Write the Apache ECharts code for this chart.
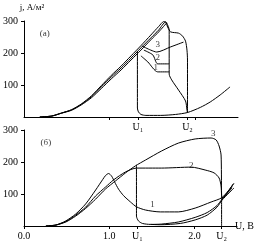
<!DOCTYPE html>
<html>
<head>
<meta charset="utf-8">
<script src="https://cdn.jsdelivr.net/npm/echarts@6/dist/echarts.min.js"></script>
<style>
  html, body { margin: 0; padding: 0; background: #fff; }
  #chart { width: 256px; height: 251px; }
</style>
</head>
<body>
<div id="chart"></div>
<script>
// marker voltages on each panel
const U1top = 1.33, U2top = 1.91;
const U1bot = 1.33, U2bot = 2.32;

// panel (а): forward curves, bundle up to the peak and after it
const topCurveA = [[0.185, 0], [0.324, 3], [0.44, 12.5], [0.556, 23], [0.671, 41], [0.787, 66], [0.903, 98], [1.019, 130], [1.134, 159], [1.25, 191], [1.366, 223], [1.481, 256], [1.574, 283], [1.632, 298],
  [1.655, 297], [1.678, 281], [1.713, 266], [1.806, 262], [1.852, 253], [1.887, 237], [1.904, 209], [1.91, 178], [1.91, 14]];
const topCurveB = [[0.185, 0], [0.324, 3], [0.44, 12.5], [0.556, 22], [0.671, 40], [0.787, 63], [0.903, 94], [1.019, 125], [1.134, 153], [1.25, 184], [1.366, 216], [1.481, 247], [1.574, 272], [1.655, 297],
  [1.667, 294], [1.696, 272], [1.696, 134], [1.725, 116], [1.806, 84], [1.887, 50], [1.904, 22], [1.91, 14]];
const topCurveC = [[0.185, 0], [0.324, 3], [0.44, 12], [0.556, 21], [0.671, 38], [0.787, 60], [0.903, 89], [1.019, 119], [1.134, 147], [1.25, 178], [1.366, 209], [1.481, 241], [1.574, 266], [1.667, 294]];
// panel (а): return branches 1, 2, 3 and the low-current branch
const topBranch3 = [[1.377, 222], [1.481, 209], [1.551, 203], [1.713, 219], [1.863, 234]];
const topBranch2 = [[1.4, 209], [1.505, 194], [1.562, 166], [1.696, 166]];
const topBranch1 = [[1.366, 191], [1.447, 172], [1.562, 141], [1.696, 141]];
const topLow = [[1.325, 206], [1.325, 28], [1.337, 16], [1.366, 8], [1.424, 5], [1.597, 5], [1.771, 8], [1.91, 14], [2.06, 30], [2.176, 47], [2.292, 69], [2.407, 94]];
const topNumbers = [['3', 1.562, 225], ['2', 1.562, 184], ['1', 1.539, 153]];

// panel (б)
const botCurve1 = [[0.257, 0], [0.374, 3], [0.491, 16], [0.607, 37.5], [0.724, 69], [0.841, 112.5], [0.923, 145], [0.958, 158], [0.993, 164], [1.028, 156], [1.063, 138], [1.11, 115], [1.168, 95], [1.25, 75], [1.32, 60], [1.425, 50], [1.6, 44], [1.811, 44], [2.009, 56], [2.196, 75], [2.325, 89], [2.442, 125]];
const botCurve2 = [[0.257, 0], [0.374, 3], [0.491, 14], [0.607, 34], [0.724, 59], [0.841, 94], [0.958, 122], [1.051, 144], [1.192, 169], [1.32, 181], [1.612, 181], [1.963, 184], [2.126, 175], [2.231, 166], [2.29, 150], [2.313, 125], [2.319, 97], [2.325, 87.5], [2.453, 131]];
const botCurve3 = [[0.257, 0], [0.374, 3], [0.491, 12.5], [0.607, 31], [0.724, 55], [0.841, 84], [0.958, 116], [1.075, 141], [1.192, 166], [1.308, 188], [1.425, 206], [1.612, 234], [1.811, 259], [2.009, 272], [2.196, 275], [2.255, 269], [2.29, 250], [2.313, 222], [2.319, 97], [2.325, 87.5], [2.465, 134]];
const botLow1 = [[1.32, 191], [1.32, 31], [1.343, 16], [1.39, 8], [1.484, 5], [1.612, 6], [1.811, 12.5], [2.009, 27], [2.15, 42], [2.266, 64], [2.325, 84], [2.442, 119]];
const botLow2 = [[1.484, 5], [1.6, 4], [1.834, 8], [2.009, 19], [2.15, 34], [2.266, 59], [2.325, 81], [2.465, 119]];
const botU2 = [[2.319, 87.5], [2.319, 0]];
const botNumbers = [['1', 1.507, 66], ['2', 1.963, 188], ['3', 2.22, 288]];

const topTicks = [1, U1top, U2top, 2];
const topTickLabels = [[U1top, 'U₁'], [U2top, 'U₂']];
const botTicks = [0, 1, U1bot, 2, U2bot];
const botTickLabels = [[0, '0.0'], [1, '1.0'], [U1bot, 'U₁'], [2, '2.0'], [U2bot, 'U₂']];

const serif = 'Liberation Serif, DejaVu Serif, serif';

function curve(data, idx) {
  return {
    type: 'line', xAxisIndex: idx, yAxisIndex: idx, data: data,
    showSymbol: false, smooth: 0.25, silent: true,
    lineStyle: { color: '#000', width: 1 }
  };
}
function numbers(items, idx) {
  return {
    type: 'scatter', xAxisIndex: idx, yAxisIndex: idx, symbolSize: 0, silent: true,
    data: items.map(d => ({ value: [d[1], d[2]], name: d[0] })),
    label: { show: true, position: 'inside', formatter: '{b}', color: '#000', fontFamily: serif, fontSize: 9 }
  };
}
function xAxis(idx, ticks, labels, name) {
  return {
    type: 'value', gridIndex: idx, min: 0, max: 2.5,
    splitLine: { show: false },
    axisLine: { lineStyle: { color: '#000', width: 1 } },
    axisTick: { customValues: ticks, length: 3, lineStyle: { color: '#000' } },
    axisLabel: {
      customValues: labels.map(l => l[0]), margin: 5,
      color: '#000', fontFamily: serif, fontSize: 10,
      formatter: v => { const f = labels.find(l => Math.abs(l[0] - v) < 1e-6); return f ? f[1] : ''; }
    },
    name: name, nameLocation: 'end', nameGap: -2,
    nameTextStyle: { color: '#000', fontFamily: serif, fontSize: 10, padding: [22, 0, 0, 0] }
  };
}
function yAxis(idx) {
  return {
    type: 'value', gridIndex: idx, min: 0, max: 300, interval: 100,
    splitLine: { show: false },
    axisLine: { show: true, lineStyle: { color: '#000', width: 1 } },
    axisTick: { show: true, length: 3, lineStyle: { color: '#000' } },
    axisLabel: { showMinLabel: false, margin: 6, color: '#000', fontFamily: serif, fontSize: 10 }
  };
}

const chart = echarts.init(document.getElementById('chart'), null, { renderer: 'canvas' });
const yTop = yAxis(0);
yTop.name = 'j, А/м²';
yTop.nameLocation = 'end';
yTop.nameGap = 9;
yTop.nameTextStyle = { color: '#000', fontFamily: serif, fontSize: 9, align: 'center', padding: [0, 0, 0, 16] };

chart.setOption({
  animation: false,
  backgroundColor: '#fff',
  grid: [
    { left: 22, top: 21, width: 216, height: 96 },
    { left: 23, top: 130, width: 214, height: 96 }
  ],
  xAxis: [xAxis(0, topTicks, topTickLabels, ''), xAxis(1, botTicks, botTickLabels, 'U, В')],
  yAxis: [yTop, yAxis(1)],
  series: [
    curve(topCurveA, 0), curve(topCurveB, 0), curve(topCurveC, 0),
    curve(topBranch3, 0), curve(topBranch2, 0), curve(topBranch1, 0), curve(topLow, 0),
    numbers(topNumbers, 0),
    numbers([['(а)', 0.243, 259]], 0),
    curve(botCurve1, 1), curve(botCurve2, 1), curve(botCurve3, 1),
    curve(botLow1, 1), curve(botLow2, 1), curve(botU2, 1),
    numbers(botNumbers, 1),
    numbers([['(б)', 0.257, 262]], 1)
  ]
});
</script>
</body>
</html>
